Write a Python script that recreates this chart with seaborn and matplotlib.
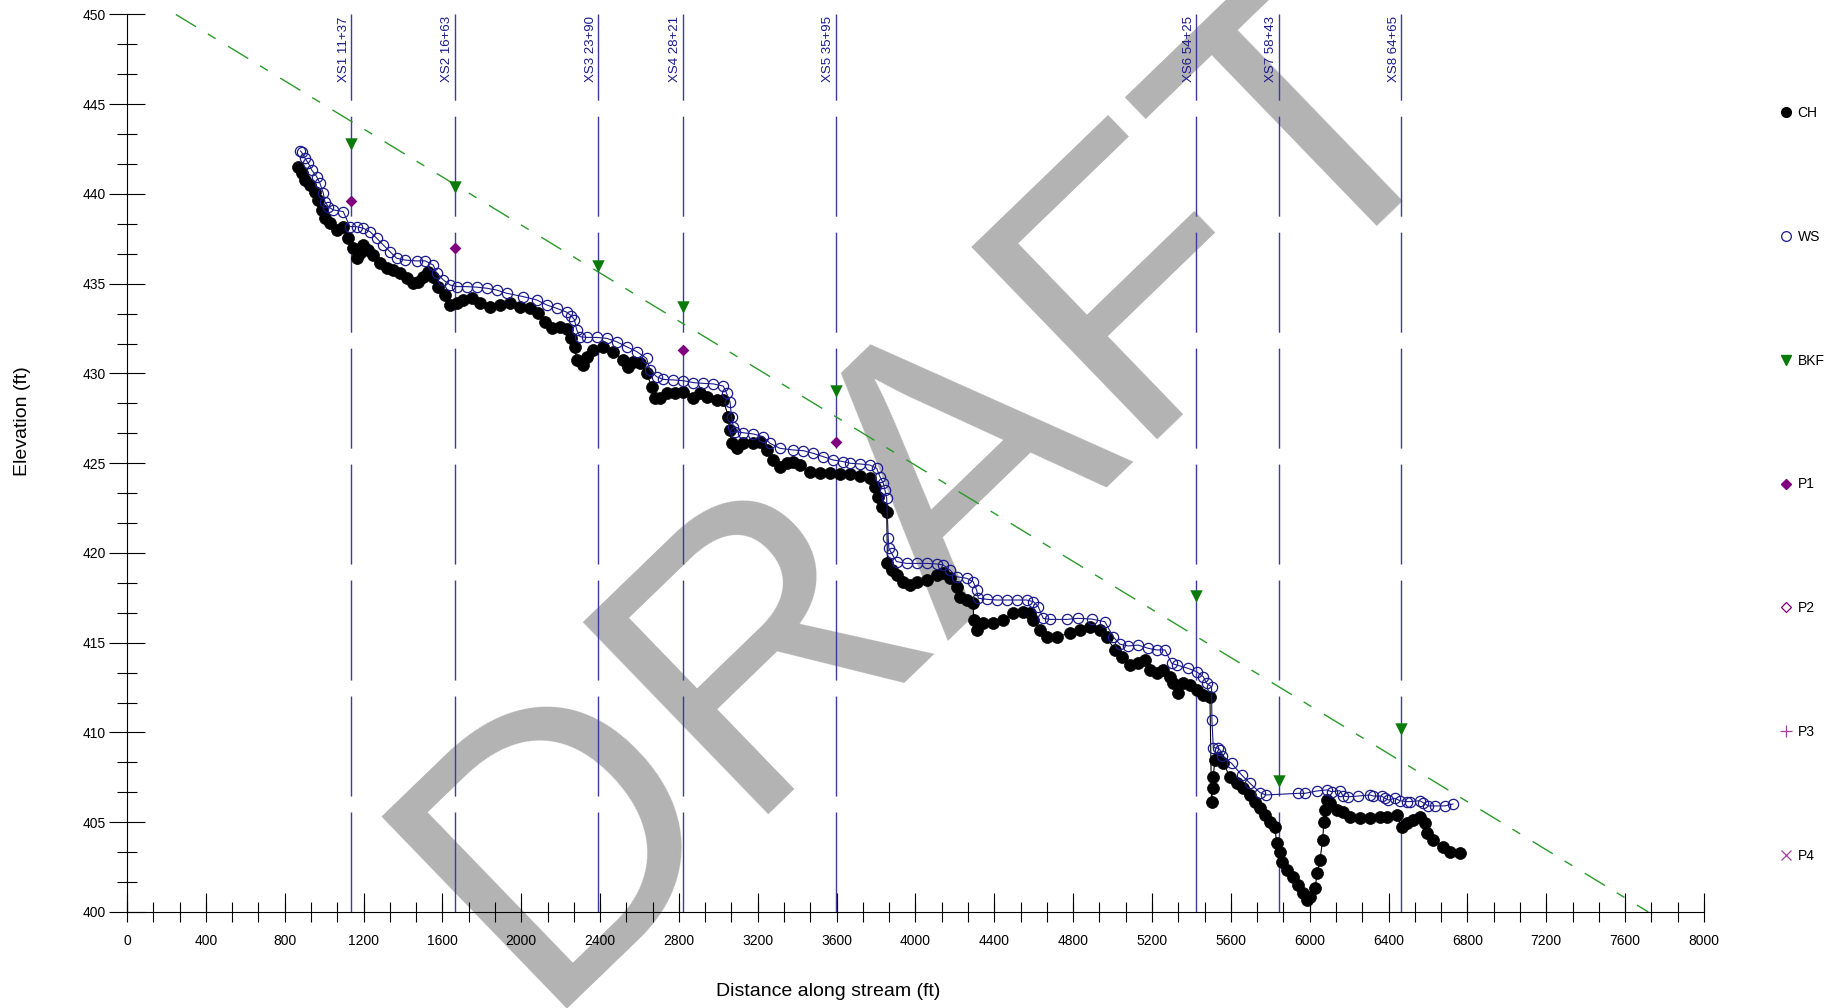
import numpy as np
import pandas as pd
import matplotlib
matplotlib.use("Agg")
import matplotlib.pyplot as plt
from matplotlib.lines import Line2D
from matplotlib.ticker import MultipleLocator
import seaborn as sns

# ---- longitudinal profile survey ----
ch_station = [869, 886, 903, 928, 954, 971, 988, 1004, 1030, 1064, 1097, 1123, 1148, 1165, 1182,
              1199, 1224, 1250, 1283, 1317, 1351, 1385, 1419, 1453, 1478, 1503, 1529, 1554, 1579,
              1613, 1639, 1672, 1706, 1748, 1791, 1841, 1892, 1943, 1994, 2044, 2087, 2121, 2154,
              2197, 2230, 2255, 2272, 2281, 2315, 2332, 2366, 2416, 2467, 2518, 2543, 2569, 2602,
              2636, 2662, 2678, 2704, 2738, 2780, 2822, 2873, 2907, 2941, 2991, 3025, 3051, 3059,
              3067, 3093, 3127, 3177, 3211, 3245, 3279, 3313, 3346, 3380, 3414, 3465, 3515, 3566,
              3617, 3668, 3718, 3769, 3795, 3811, 3828, 3854, 3858, 3879, 3904, 3938, 3972, 4006,
              4057, 4107, 4141, 4175, 4209, 4226, 4260, 4293, 4295, 4310, 4344, 4395, 4446, 4496,
              4547, 4581, 4598, 4632, 4665, 4716, 4784, 4834, 4885, 4936, 4970, 5012, 5046, 5088,
              5130, 5164, 5190, 5223, 5257, 5291, 5308, 5333, 5359, 5393, 5426, 5460, 5494, 5502,
              5508, 5511, 5519, 5536, 5562, 5595, 5629, 5663, 5697, 5722, 5748, 5773, 5798, 5824,
              5832, 5849, 5858, 5883, 5917, 5942, 5967, 5984, 6001, 6027, 6038, 6052, 6066, 6072,
              6077, 6086, 6103, 6137, 6170, 6204, 6255, 6306, 6356, 6390, 6441, 6466, 6492, 6525,
              6559, 6585, 6593, 6627, 6678, 6711, 6762]
ch_elev = [441.52, 441.15, 440.78, 440.50, 440.13, 439.67, 439.11, 438.64, 438.37, 437.99, 438.18,
           437.53, 436.97, 436.42, 436.69, 437.16, 436.88, 436.60, 436.14, 435.86, 435.77, 435.58,
           435.30, 435.02, 435.12, 435.39, 435.67, 435.39, 434.84, 434.37, 433.82, 433.91, 434.10,
           434.19, 433.91, 433.72, 433.82, 433.91, 433.72, 433.63, 433.35, 432.89, 432.52, 432.60,
           432.50, 432.00, 431.49, 430.75, 430.47, 430.94, 431.31, 431.49, 431.22, 430.75, 430.38,
           430.66, 430.57, 430.01, 429.27, 428.62, 428.62, 428.89, 428.89, 428.99, 428.62, 428.89,
           428.71, 428.52, 428.52, 427.60, 426.85, 426.11, 425.83, 426.11, 426.11, 426.20, 425.74,
           425.18, 424.81, 425.00, 425.09, 424.90, 424.53, 424.44, 424.44, 424.40, 424.40, 424.30,
           424.16, 423.70, 423.14, 422.58, 422.30, 419.42, 419.05, 418.77, 418.40, 418.22, 418.40,
           418.50, 418.77, 418.87, 418.59, 418.12, 417.57, 417.38, 417.20, 416.27, 415.71, 416.08,
           416.08, 416.27, 416.64, 416.73, 416.64, 416.27, 415.71, 415.34, 415.34, 415.53, 415.71,
           415.89, 415.70, 415.30, 414.60, 414.22, 413.76, 413.85, 414.04, 413.48, 413.30, 413.48,
           413.11, 412.74, 412.18, 412.74, 412.65, 412.37, 412.09, 412.00, 406.15, 406.89, 407.54,
           408.47, 408.56, 408.28, 407.54, 407.17, 406.89, 406.52, 406.15, 405.78, 405.40, 405.03,
           404.75, 403.83, 403.36, 402.80, 402.34, 401.97, 401.50, 401.04, 400.67, 400.85, 401.32,
           402.15, 402.90, 404.01, 405.03, 405.68, 406.24, 406.05, 405.68, 405.59, 405.31, 405.22,
           405.22, 405.31, 405.31, 405.40, 404.75, 404.94, 405.13, 405.31, 404.94, 404.38, 404.01,
           403.64, 403.36, 403.27]

ws_station = [880, 886, 903, 920, 937, 962, 979, 996, 1004, 1021, 1047, 1097, 1131, 1165, 1199, 1233,
              1267, 1300, 1334, 1368, 1410, 1469, 1512, 1554, 1571, 1605, 1639, 1672, 1723, 1774,
              1825, 1875, 1926, 2011, 2078, 2129, 2180, 2230, 2255, 2270, 2281, 2298, 2332, 2383,
              2433, 2484, 2535, 2586, 2636, 2653, 2687, 2721, 2771, 2822, 2873, 2924, 2974, 3025,
              3042, 3059, 3067, 3076, 3084, 3127, 3177, 3228, 3262, 3313, 3380, 3431, 3482, 3532,
              3583, 3634, 3668, 3718, 3769, 3803, 3820, 3837, 3845, 3854, 3862, 3865, 3879, 3904,
              3955, 4006, 4057, 4107, 4141, 4175, 4209, 4260, 4293, 4310, 4319, 4361, 4412, 4462,
              4513, 4564, 4598, 4623, 4648, 4682, 4767, 4826, 4894, 4961, 5004, 5037, 5080, 5130,
              5181, 5223, 5266, 5300, 5325, 5384, 5426, 5460, 5477, 5502, 5504, 5511, 5536, 5545,
              5553, 5604, 5655, 5697, 5748, 5778, 5942, 5976, 6035, 6086, 6111, 6153, 6170, 6196,
              6246, 6306, 6323, 6365, 6382, 6399, 6433, 6458, 6492, 6509, 6559, 6576, 6602, 6635,
              6686, 6728]
ws_elev = [442.40, 442.32, 441.99, 441.71, 441.34, 440.97, 440.59, 440.04, 439.57, 439.29, 439.11,
           439.02, 438.18, 438.18, 438.09, 437.90, 437.53, 437.16, 436.79, 436.42, 436.32, 436.27,
           436.28, 436.04, 435.58, 435.21, 434.93, 434.84, 434.84, 434.81, 434.75, 434.65, 434.47,
           434.28, 434.10, 433.82, 433.63, 433.42, 433.20, 433.00, 432.45, 432.05, 432.01, 432.01,
           431.96, 431.77, 431.49, 431.22, 430.84, 430.19, 429.82, 429.67, 429.64, 429.60, 429.49,
           429.45, 429.42, 429.30, 428.89, 428.43, 427.60, 427.04, 426.76, 426.70, 426.63, 426.48,
           426.11, 425.83, 425.74, 425.70, 425.55, 425.37, 425.18, 425.09, 425.00, 424.96, 424.90,
           424.72, 424.25, 423.88, 423.51, 423.05, 420.82, 420.26, 419.98, 419.52, 419.42, 419.42,
           419.42, 419.39, 419.33, 419.05, 418.68, 418.59, 418.40, 417.94, 417.48, 417.42, 417.38,
           417.38, 417.38, 417.38, 417.29, 417.01, 416.36, 416.30, 416.30, 416.36, 416.32, 416.17,
           415.32, 414.92, 414.82, 414.87, 414.69, 414.60, 414.60, 413.85, 413.76, 413.57, 413.39,
           413.11, 412.74, 412.55, 410.70, 409.16, 409.12, 409.03, 408.69, 408.28, 407.63, 407.17,
           406.65, 406.52, 406.61, 406.61, 406.74, 406.80, 406.70, 406.76, 406.46, 406.42, 406.46,
           406.52, 406.46, 406.46, 406.33, 406.24, 406.33, 406.20, 406.15, 406.15, 406.20, 406.09,
           405.91, 405.91, 405.91, 406.02]

# ---- cross sections ----
xs_names = ["XS1", "XS2", "XS3", "XS4", "XS5", "XS6", "XS7", "XS8"]
xs_stations_txt = ["11+37", "16+63", "23+90", "28+21", "35+95", "54+25", "58+43", "64+65"]
xs_station = [1137, 1663, 2390, 2821, 3595, 5425, 5843, 6465]
bkf_elev = [442.8, 440.4, 436.0, 433.7, 429.0, 417.6, 407.3, 410.2]
p1_elev = [439.6, 437.0, np.nan, 431.3, 426.2, np.nan, np.nan, np.nan]

# bankfull slope line
bkf_line_station = [248, 7718]
bkf_line_elev = [450.0, 400.0]

legend_labels = ["CH", "WS", "BKF", "P1", "P2", "P3", "P4"]

# ---- style ----
sns.set_theme(style="white")
plt.rcParams["font.family"] = ["Liberation Sans", "DejaVu Sans"]
plt.rcParams["text.color"] = "black"
plt.rcParams["axes.labelcolor"] = "black"
plt.rcParams["xtick.color"] = "black"
plt.rcParams["ytick.color"] = "black"

navy = "#1a1a8a"
xs_col = "#3c3ca0"
green_line = "#2a9a2a"
green_mk = "#0a7a0a"
purple = "#800080"
purple_lt = "#a040a0"
gray = "#b3b3b3"

fig = plt.figure(figsize=(18.45, 10.08), dpi=100)
fig.patch.set_facecolor("white")
ax = fig.add_axes([0.06883, 0.09524, 0.8547, 0.8904])
ax.patch.set_alpha(0)

# watermark behind everything
fig.text(0.505, 0.517, "DRAFT", rotation=44, fontsize=280, color=gray,
         ha="center", va="center", zorder=-5)

# cross-section lines and labels
ax.vlines(xs_station, 400, 450, colors=xs_col, linewidth=1.0,
          linestyles=[(0, (72, 11.5))], zorder=1)
for s, n, t in zip(xs_station, xs_names, xs_stations_txt):
    ax.text(s - 8, 449.9, f"{n} {t}", rotation=90, ha="right", va="top",
            fontsize=9.5, color=navy, zorder=5)

# bankfull slope
sns.lineplot(x=bkf_line_station, y=bkf_line_elev, ax=ax, color=green_line, linewidth=1.0,
             linestyle=(0, (17, 10, 6.5, 10.5)), sort=False, estimator=None, zorder=2)

# thalweg and water surface
ch = pd.DataFrame({"station": ch_station, "elev": ch_elev})
ws = pd.DataFrame({"station": ws_station, "elev": ws_elev})
sns.lineplot(data=ch, x="station", y="elev", ax=ax, sort=False, estimator=None,
             color="black", linewidth=0.8, marker="o", markersize=8.6,
             markerfacecolor="black", markeredgecolor="black", markeredgewidth=0.5, zorder=3)
sns.lineplot(data=ws, x="station", y="elev", ax=ax, sort=False, estimator=None,
             color=navy, linewidth=0.8, marker="o", markersize=7.4,
             markerfacecolor="none", markeredgecolor=navy, markeredgewidth=0.9, zorder=4)

# bankfull and pool indicators
sns.scatterplot(x=xs_station, y=bkf_elev, ax=ax, marker="v", s=80, color=green_mk,
                edgecolor=green_mk, linewidth=0, zorder=6)
sns.scatterplot(x=xs_station, y=p1_elev, ax=ax, marker="D", s=36, color=purple,
                edgecolor=purple, linewidth=0, zorder=6)

# axes
ax.set_xlim(0, 8000)
ax.set_ylim(400, 450)
for side in ("top", "right"):
    ax.spines[side].set_visible(False)
for side in ("left", "bottom"):
    ax.spines[side].set_color("black")
    ax.spines[side].set_linewidth(0.8)

ax.xaxis.set_major_locator(MultipleLocator(400))
ax.xaxis.set_minor_locator(MultipleLocator(400 / 3))
ax.yaxis.set_major_locator(MultipleLocator(5))
ax.yaxis.set_minor_locator(MultipleLocator(5 / 3))
ax.xaxis.remove_overlapping_locs = False
ax.tick_params(axis="x", which="major", direction="in", length=13.7, width=0.8,
               pad=15.5, labelsize=10, bottom=True)
ax.tick_params(axis="x", which="minor", direction="inout", length=13.7, width=0.8, bottom=True)
ax.tick_params(axis="y", which="major", direction="inout", length=26.6, width=0.8,
               pad=1.8, labelsize=10, left=True)
ax.tick_params(axis="y", which="minor", direction="inout", length=13.7, width=0.8, left=True)

ax.set_xlabel("Distance along stream (ft)", fontsize=14)
ax.set_ylabel("Elevation (ft)", fontsize=14)
ax.xaxis.set_label_coords(0.4445, -0.079)
ax.yaxis.set_label_coords(-0.061, 0.547)

# legend
handles = [
    Line2D([], [], linestyle="none", marker="o", markersize=7, color="black"),
    Line2D([], [], linestyle="none", marker="o", markersize=7, markerfacecolor="none",
           markeredgecolor=navy, markeredgewidth=0.9),
    Line2D([], [], linestyle="none", marker="v", markersize=7.5, color=green_mk),
    Line2D([], [], linestyle="none", marker="D", markersize=5, color=purple),
    Line2D([], [], linestyle="none", marker="D", markersize=5, markerfacecolor="none",
           markeredgecolor=purple, markeredgewidth=0.9),
    Line2D([], [], linestyle="none", marker="+", markersize=8, color=purple_lt,
           markeredgewidth=0.9),
    Line2D([], [], linestyle="none", marker="x", markersize=7, color=purple_lt,
           markeredgewidth=0.9),
]
fig.legend(handles, legend_labels, loc="upper left", bbox_to_anchor=(0.9615, 0.9015),
           frameon=False, fontsize=10, handlelength=0.8, handletextpad=0.4,
           labelspacing=7.9, borderpad=0)

fig.savefig("out.png", dpi=100, facecolor="white")
